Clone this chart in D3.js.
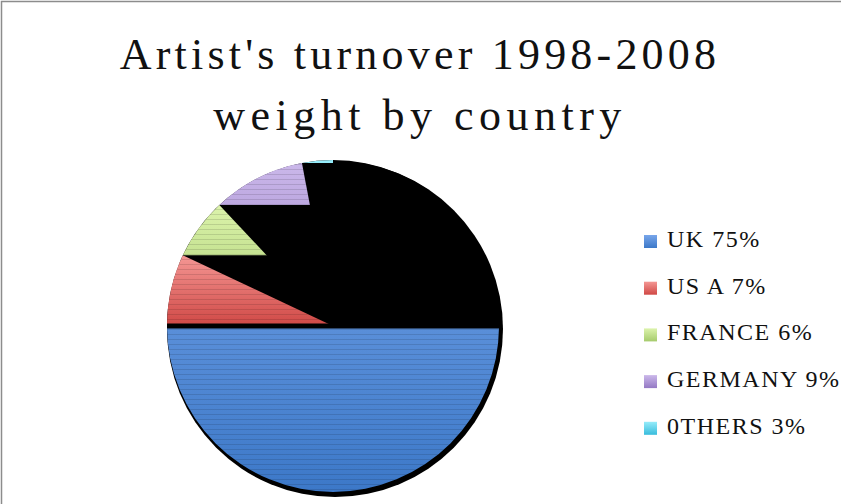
<!DOCTYPE html>
<html>
<head>
<meta charset="utf-8">
<script src="https://cdn.jsdelivr.net/npm/d3@7"></script>
<style>
  html, body { margin: 0; padding: 0; background: #fff; }
  svg { display: block; }
  text { font-family: "Liberation Serif", "DejaVu Serif", serif; fill: #111; }
</style>
</head>
<body>
<svg></svg>
<script>
const width = 841;
const height = 504;

// data
const countries = ['UK', 'US A', 'FRANCE', 'GERMANY', '0THERS'];
const shares = [75, 7, 6, 9, 3];
const titleLines = ["Artist's turnover 1998-2008", 'weight by country'];

// colour ramps per slice (top, bottom)
const ramps = [
    ['#78a6ea', '#3c78c8'],
    ['#f49794', '#d04845'],
    ['#dcf3ac', '#a6cb6c'],
    ['#cbb8ea', '#9479c4'],
    ['#96ecfa', '#38bcdc']
];

const svg = d3.select('svg')
    .attr('width', width)
    .attr('height', height);

const defs = svg.append('defs');

// frame (only top and left edges show)
svg.append('path')
    .attr('d', `M1.5,${height} V1.5 H${width}`)
    .attr('fill', 'none')
    .attr('stroke', '#8c8c8c')
    .attr('stroke-width', 1.5);

// title
svg.append('g')
    .selectAll('text')
    .data(titleLines)
    .enter()
    .append('text')
    .attr('x', 420)
    .attr('y', (d, i) => 69 + i * 61)
    .attr('text-anchor', 'middle')
    .attr('font-size', 44)
    .attr('letter-spacing', (d, i) => i ? 5.5 : 4.2)
    .text(d => d);

const cx = 333, cy = 326, r = 166;

const pie = d3.pie().sort(null).value(d => d)(shares);
const arc = d3.arc().innerRadius(0).outerRadius(r);

// gradients + stripe pattern
ramps.forEach((c, i) => {
    const lg = defs.append('linearGradient')
        .attr('id', 'grad' + i)
        .attr('x1', 0).attr('y1', 0).attr('x2', 0).attr('y2', 1);
    lg.append('stop').attr('offset', '0%').attr('stop-color', c[0]);
    lg.append('stop').attr('offset', '100%').attr('stop-color', c[1]);
});

const stripe = defs.append('pattern')
    .attr('id', 'stripes')
    .attr('patternUnits', 'userSpaceOnUse')
    .attr('width', 8).attr('height', 5);
stripe.append('rect')
    .attr('y', 3).attr('width', 8).attr('height', 1)
    .attr('fill', '#000').attr('opacity', 0.12);

// the shadow / black body of the pie
const g = svg.append('g').attr('transform', `translate(${cx},${cy})`);
g.append('circle')
    .attr('cx', 2).attr('cy', 3)
    .attr('r', r + 2)
    .attr('fill', '#000');
g.append('circle')
    .attr('r', r)
    .attr('fill', '#000');

// each slice only paints the horizontal band between its arc ends
const seam = 2.5;
pie.forEach((d, i) => {
    let top, bottom;
    if (d.startAngle <= Math.PI && d.endAngle >= Math.PI) {
        top = seam;
        bottom = r + 2;
    } else {
        const y0 = -r * Math.cos(d.startAngle);
        const y1 = -r * Math.cos(d.endAngle);
        top = Math.min(y0, y1);
        bottom = Math.max(y0, y1);
        if (Math.abs(bottom) < 1) bottom = -seam;
        if (bottom - top < 3) top = bottom - 3;
    }
    defs.append('clipPath')
        .attr('id', 'band' + i)
        .append('rect')
        .attr('x', -r - 2)
        .attr('y', top)
        .attr('width', 2 * r + 4)
        .attr('height', bottom - top);

    const sg = g.append('g').attr('clip-path', `url(#band${i})`);
    sg.append('path')
        .attr('d', arc(d))
        .attr('fill', `url(#grad${i})`);
    sg.append('path')
        .attr('d', arc(d))
        .attr('fill', 'url(#stripes)');
});

// legend
const legend = svg.append('g')
    .attr('transform', 'translate(644,242)')
    .selectAll('g')
    .data(countries)
    .enter()
    .append('g')
    .attr('transform', (d, i) => `translate(0,${i * 46.7})`);

legend.append('rect')
    .attr('y', -7)
    .attr('width', 13)
    .attr('height', 13)
    .attr('fill', (d, i) => `url(#grad${i})`);

legend.append('text')
    .attr('x', 23)
    .attr('y', 5)
    .attr('font-size', 24)
    .attr('letter-spacing', 1.5)
    .text((d, i) => `${d} ${shares[i]}%`);
</script>
</body>
</html>
